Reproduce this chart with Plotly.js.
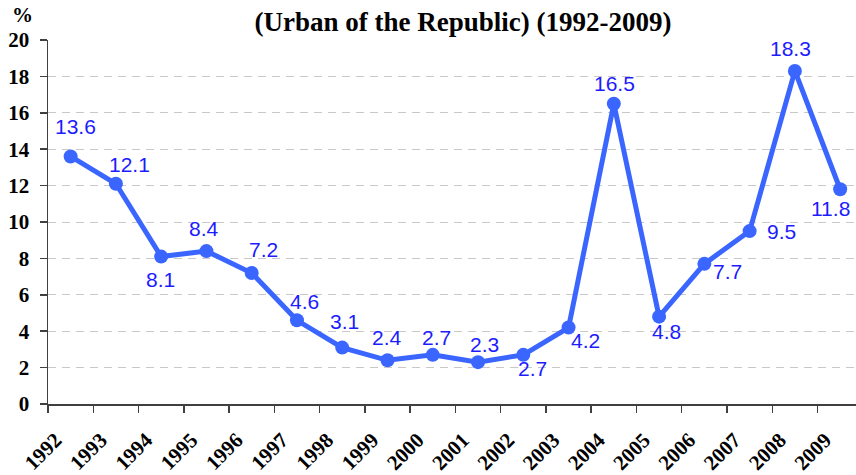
<!DOCTYPE html>
<html>
<head>
<meta charset="utf-8">
<script src="https://cdn.plot.ly/plotly-3.0.1.min.js"></script>
<style>html,body{margin:0;padding:0;background:#fff;}#chart{width:856px;height:475px;}</style>
</head>
<body>
<div id="chart"></div>
<script>
const years = ["1992","1993","1994","1995","1996","1997","1998","1999","2000","2001","2002","2003","2004","2005","2006","2007","2008","2009"];
const values = [13.6,12.1,8.1,8.4,7.2,4.6,3.1,2.4,2.7,2.3,2.7,4.2,16.5,4.8,7.7,9.5,18.3,11.8];
const yTicks = [0,2,4,6,8,10,12,14,16,18,20];
// label offsets from each point, in pixels (style only)
const labelDX = [5,14,-1,-2,12,8,2,-1,4,6,9,17,1,7,23,32,-4,-10];
const labelDY = [29,18,-24,22,22,18,25,22,16,17,-15,-14,19,-16,-9,-1,21,-20];

const trace = {
  x: years,
  y: values,
  type: "scatter",
  mode: "lines+markers",
  line: {color: "#3a66ff", width: 5},
  marker: {color: "#3a66ff", size: 14},
  cliponaxis: false,
  hoverinfo: "skip"
};

const labelFont = {family: "Liberation Sans, Arial, sans-serif", size: 21, color: "#1c1cff"};
const tickFont = {family: "Liberation Serif, Times New Roman, serif", size: 21, color: "#000", weight: 700};

// category axis: annotation x uses the category's serial index
const labels = years.map((yr, i) => ({
  x: i, y: values[i], xref: "x", yref: "y",
  text: values[i].toFixed(1),
  showarrow: false,
  xanchor: "center", yanchor: "middle",
  xshift: labelDX[i], yshift: labelDY[i] + 1,
  font: labelFont
}));

const layout = {
  width: 856, height: 475,
  margin: {l: 48, r: 0, t: 40, b: 71},
  paper_bgcolor: "#fff", plot_bgcolor: "#fff",
  showlegend: false,
  title: {
    text: "(Urban of the Republic) (1992-2009)",
    font: {family: "Liberation Serif, Times New Roman, serif", size: 27, color: "#000", weight: 700},
    x: 0.541, xanchor: "center", y: 0.955, yanchor: "middle"
  },
  xaxis: {
    type: "category",
    range: [-0.5, 17.35],
    tickson: "boundaries",
    ticks: "outside", ticklen: 7, tickcolor: "#404040", tickwidth: 1.5,
    showline: true, linecolor: "#404040", linewidth: 1.5,
    showgrid: false, zeroline: false,
    tickangle: -45,
    tickfont: tickFont,
    ticklabelstandoff: 14,
    ticklabelshift: -15
  },
  yaxis: {
    range: [0, 20],
    tickvals: yTicks,
    ticktext: yTicks.map(String),
    ticks: "outside", ticklen: 7, tickcolor: "#404040", tickwidth: 1.5,
    showline: true, linecolor: "#404040", linewidth: 1.5,
    showgrid: true, gridcolor: "#c8c8c8", gridwidth: 1, griddash: "8px,6px",
    zeroline: false,
    tickfont: tickFont,
    ticklabelstandoff: 6
  },
  annotations: labels.concat([{
    text: "%", xref: "paper", yref: "paper",
    x: -0.032, y: 1.07, xanchor: "center", yanchor: "middle",
    showarrow: false,
    font: {family: "Liberation Serif, Times New Roman, serif", size: 21, color: "#000", weight: 700}
  }])
};

Plotly.newPlot("chart", [trace], layout, {displayModeBar: false, staticPlot: true});
</script>
</body>
</html>
